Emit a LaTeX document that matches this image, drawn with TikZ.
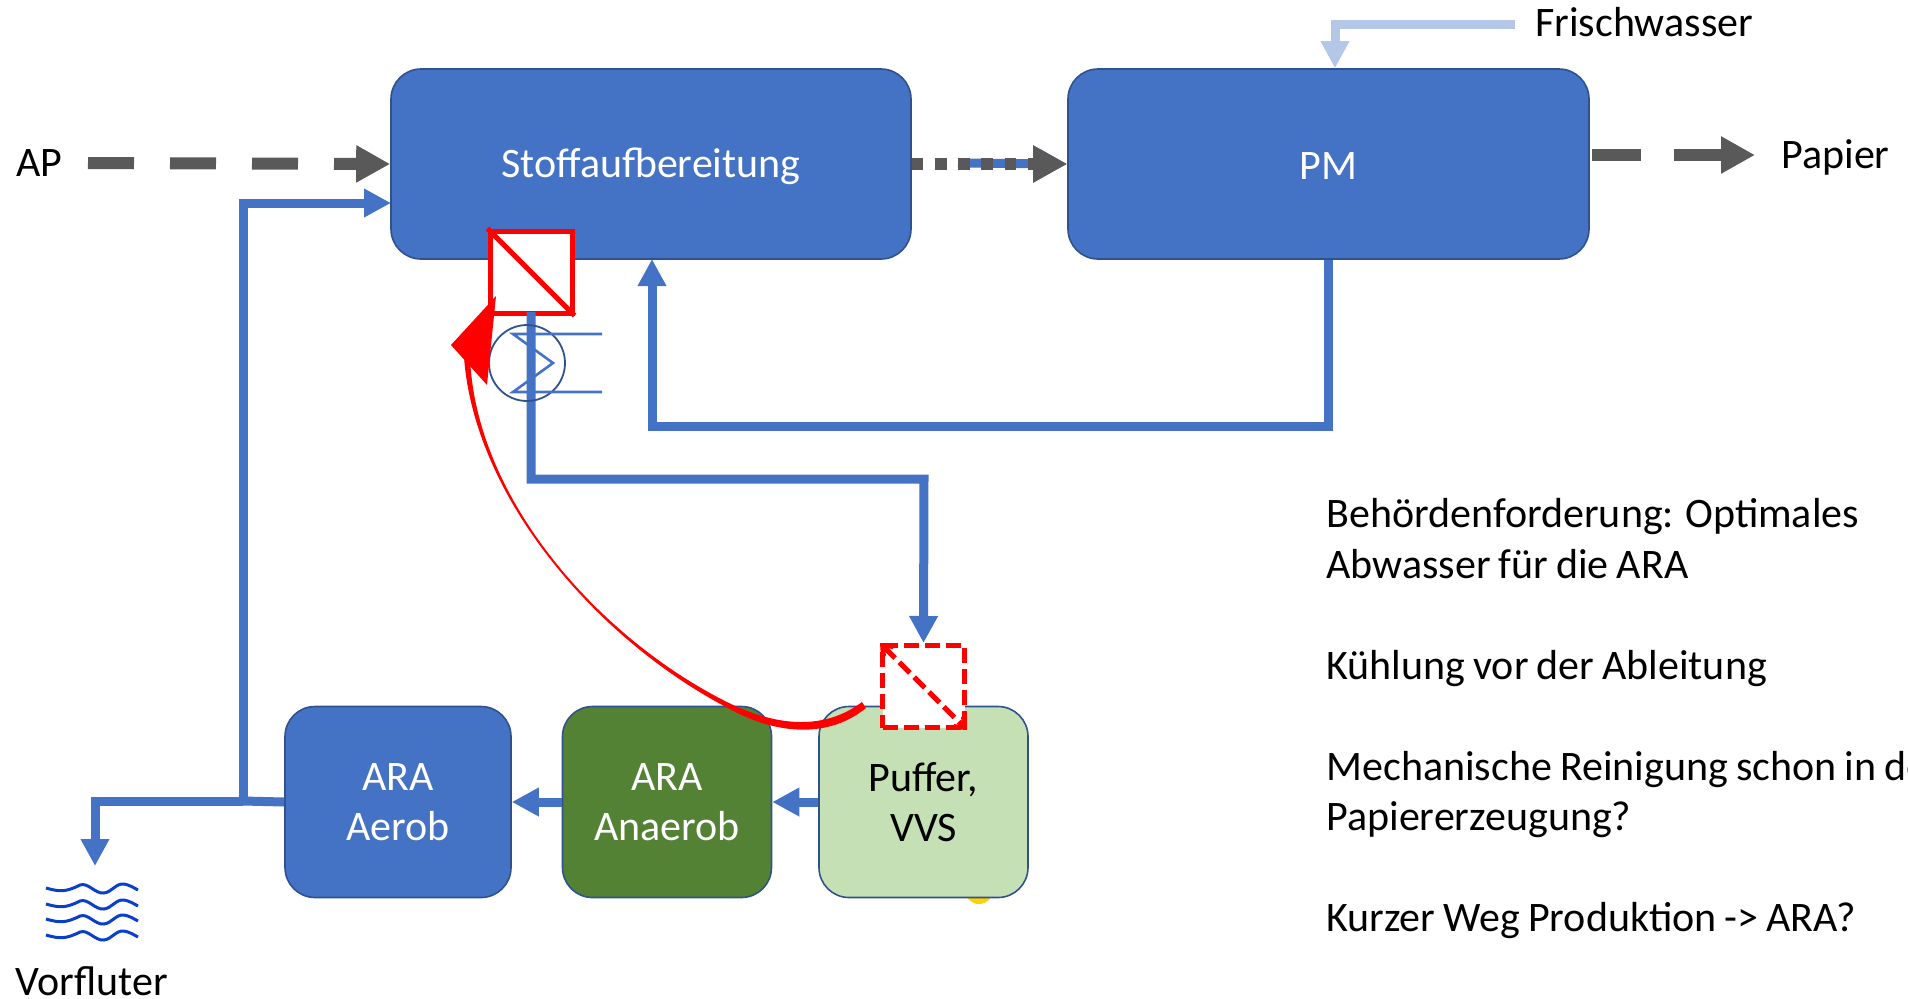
\documentclass[tikz,border=0pt]{standalone}
\usepackage{fontspec}
\setmainfont{Carlito}[WordSpace=0.85]
\usetikzlibrary{arrows.meta}
\definecolor{boxblue}{HTML}{4472C4}
\definecolor{boxline}{HTML}{2F528F}
\definecolor{boxgreen}{HTML}{548235}
\definecolor{boxlight}{HTML}{C5E0B4}
\definecolor{flowgray}{HTML}{595959}
\definecolor{flowlight}{HTML}{B4C7E7}
\definecolor{waterblue}{HTML}{0A3FCC}
\tikzset{
  anlage/.style={draw=boxline,line width=0.8pt,fill=boxblue,text=white,rounded corners=15pt,align=center,inner sep=0pt},
  flow/.style={draw=boxblue,line width=4.5pt,-{Triangle[length=13.5pt,width=13.5pt]}},
  stream/.style={draw=flowgray,line width=6pt,-{Triangle[length=17pt,width=17.5pt]}},
  label/.style={inner sep=0pt,text=black,align=left},
  filterbox/.style={draw=red,line width=2.5pt,fill=white,minimum size=41pt,inner sep=0pt},
  redrand/.style={dash pattern=on 7.5pt off 3pt}
}
\begin{document}
\begin{tikzpicture}[x=0.5pt,y=-0.5pt,font=\fontsize{21}{25.25}\selectfont]
    \useasboundingbox (0,0) rectangle (1908,998);
    % yellow rest below the buffer
    \fill[yellow!70!orange] (979,890) circle (14);
    % boxes
    \node[anlage,text depth=1pt,minimum width=260pt,minimum height=95pt] (stoff) at (651,164) {Stoffaufbereitung};
    \node[anlage,text height=15pt,minimum width=260.5pt,minimum height=95pt] (pm) at (1328.5,164) {PM};
    \node[anlage,minimum width=113pt,minimum height=95.5pt] (aerob) at (398,802) {ARA\\Aerob};
    \node[anlage,fill=boxgreen,minimum width=104.5pt,minimum height=95.5pt] (anaerob) at (667,802) {ARA\\Anaerob};
    \node[anlage,fill=boxlight,text=black,minimum width=104.5pt,minimum height=95.5pt] (puffer) at (923.5,802) {Puffer,\\VVS};
    % texts
    \node[label,anchor=base west] (ap) at (16,176) {AP};
    \node[label,anchor=base west] (papier) at (1781,168) {Papier};
    \node[label,anchor=base west] (frisch) at (1535,36) {Frischwasser};
    \node[label,anchor=base west] (vorfluter) at (15,995) {Vorfluter};
    \node[label,anchor=north west] (notes) at (1326,498) {Behördenforderung: Optimales\\Abwasser für die ARA\\[25.25pt]Kühlung vor der Ableitung\\[25.25pt]Mechanische Reinigung schon in der\\Papiererzeugung?\\[25.25pt]Kurzer Weg Produktion -> ARA?};
    % free ends
    \coordinate (branch) at (243,801);
    \coordinate (frischstart) at (1515,24);
    \coordinate (frischknick) at (1335,24);
    \coordinate (vorfluterend) at (95,866);
    \coordinate (filterab) at (531,312);
    \coordinate (apstart) at (88,163);
    \coordinate (papierstart) at (1592,155);
    \coordinate (papierend) at (1755,155);
    \coordinate (blaustart) at (958,163);
    % filters
    \node[filterbox] (filter) at (531,272) {};
    \node[filterbox,redrand] (filterb) at (923.5,686.5) {};
    % flows
    \draw[stream,dash pattern=on 23pt off 18pt] (apstart) -- (stoff.west);
    \draw[flow] (branch) |- (391,203);
    \draw[flow,-] (aerob.west) -- (branch);
    \draw[flow] (branch) -| (vorfluterend);
    \draw[flow] (blaustart) -- (pm.west);
    \draw[stream,dash pattern=on 5.8pt off 5.8pt] (stoff.east) -- (pm.west);
    \draw[stream,dash pattern=on 24.5pt off 16.5pt] (papierstart) -- (papierend);
    \draw[flow,draw=flowlight] (frischstart) -| (pm.north -| frischknick);
    \draw[flow] (pm.south) |- (652,426) -- (652,259);
    \draw[flow] (filterab) |- (924,479) -- (filterb.north);
    \draw[flow] (puffer.west) -- (anaerob.east);
    \draw[flow] (anaerob.west) -- (aerob.east);
    % filter diagonals
    \draw[red,line width=2.5pt] (filter.north west) -- (filter.south east);
    \draw[red,line width=2.5pt,redrand,{Straight Barb[length=4pt,width=7pt]}-{Straight Barb[length=4pt,width=7pt]}] (filterb.north west) -- (filterb.south east);
    % cooler
    \node[draw=boxline,circle,line width=0.9pt,minimum size=38pt,inner sep=0pt] (kuehler) at (527,363) {};
    \draw[boxblue,line width=1.3pt] (602,334) -- (513,334) -- (553,363) -- (513,392) -- (602,392);
    % red return
    \fill[red] (464,357) .. controls (474.5,500) and (599.5,640.5) .. (726,707) .. controls (775,735) and (828,739) .. (866,708) -- (862,702) .. controls (825,730) and (778,727) .. (729,703) .. controls (600.5,639.5) and (475.5,500) .. (470,357) -- cycle;
    \fill[red] (496,296) -- (451,345) -- (487,385) -- cycle;
    % water
    \foreach \wy in {888,904,919,935}
        \draw[waterblue,line width=1.5pt] (46,\wy) .. controls (60,\wy+4) and (66,\wy+4) .. (80,\wy-3) .. controls (88,\wy-6) and (95,\wy+6) .. (104,\wy+5) .. controls (112,\wy+4) and (116,\wy-5) .. (124,\wy-4) .. controls (130,\wy-3) and (134,\wy) .. (138,\wy+2);
\end{tikzpicture}
\end{document}
